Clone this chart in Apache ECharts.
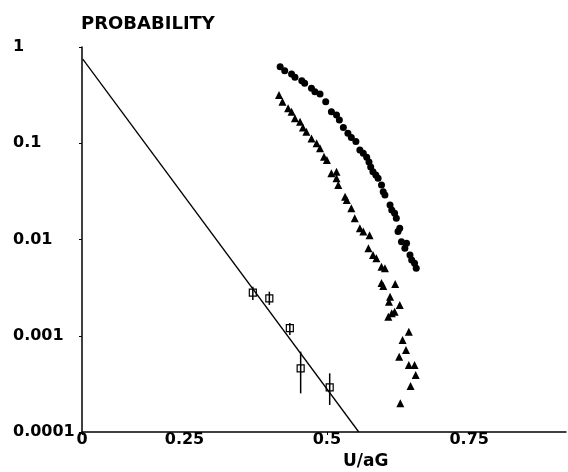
<!DOCTYPE html>
<html>
<head>
<meta charset="utf-8">
<script src="https://cdn.jsdelivr.net/npm/echarts@6/dist/echarts.min.js"></script>
<style>
  html, body { margin: 0; padding: 0; background: #fff; }
  #chart { width: 568px; height: 472px; }
</style>
</head>
<body>
<div id="chart"></div>
<script>
// filled circles
var circleX = [0.418, 0.426, 0.438, 0.444, 0.456, 0.461, 0.473, 0.479, 0.488, 0.498, 0.508, 0.517, 0.522, 0.529, 0.537, 0.543, 0.551, 0.558, 0.564, 0.570, 0.574, 0.577, 0.581, 0.586, 0.590, 0.596, 0.599, 0.602, 0.611, 0.614, 0.619, 0.622, 0.628, 0.625, 0.631, 0.640, 0.637, 0.646, 0.649, 0.654, 0.657];
var circleY = [0.624, 0.567, 0.524, 0.484, 0.447, 0.420, 0.372, 0.343, 0.325, 0.270, 0.213, 0.197, 0.174, 0.146, 0.127, 0.115, 0.104, 0.0851, 0.0787, 0.0715, 0.0639, 0.0567, 0.0506, 0.0468, 0.0432, 0.0368, 0.0314, 0.0290, 0.0228, 0.0203, 0.0187, 0.0166, 0.0131, 0.0121, 0.00949, 0.00913, 0.00810, 0.00690, 0.00612, 0.00566, 0.00502];
// filled triangles
var triangleX = [0.416, 0.422, 0.432, 0.438, 0.444, 0.453, 0.458, 0.464, 0.473, 0.482, 0.488, 0.495, 0.500, 0.508, 0.517, 0.517, 0.520, 0.532, 0.535, 0.543, 0.549, 0.558, 0.564, 0.575, 0.573, 0.581, 0.587, 0.596, 0.602, 0.596, 0.599, 0.620, 0.611, 0.609, 0.628, 0.619, 0.614, 0.608, 0.644, 0.633, 0.639, 0.627, 0.644, 0.654, 0.656, 0.647, 0.629];
var triangleY = [0.317, 0.270, 0.231, 0.213, 0.182, 0.167, 0.146, 0.132, 0.112, 0.0999, 0.0886, 0.0725, 0.0670, 0.0487, 0.0506, 0.0432, 0.0368, 0.0278, 0.0257, 0.0211, 0.0166, 0.0131, 0.0121, 0.0111, 0.00810, 0.00690, 0.00638, 0.00522, 0.00502, 0.00353, 0.00329, 0.00345, 0.00254, 0.00226, 0.00209, 0.00178, 0.00171, 0.00158, 0.00110, 0.000903, 0.000711, 0.000606, 0.000497, 0.000497, 0.000391, 0.000300, 0.000199];
// open squares with error bars
var squareX = [0.370, 0.399, 0.435, 0.454, 0.505];
var squareY = [0.00280, 0.00245, 0.00120, 0.000459, 0.000291];
var squareLow = [0.00235, 0.00209, 0.00102, 0.000252, 0.000191];
var squareHigh = [0.00323, 0.00287, 0.00136, 0.000683, 0.000407];
// straight fit line
var fitX = [0.0714, 0.5561];
var fitY = [0.75, 0.0001];
// axis ticks
var xTickValues = [0.07, 0.25, 0.5, 0.75];
var xTickLabels = ['0', '0.25', '0.5', '0.75'];
var yTickLabels = { 1: '1', 0.1: '0.1', 0.01: '0.01', 0.001: '0.001', 0.0001: '0.0001' };

function zip(xs, ys) {
    return xs.map(function (x, i) { return [x, ys[i]]; });
}

var myChart = echarts.init(document.getElementById('chart'));
var font = '"DejaVu Sans", sans-serif';

var option = {
    animation: false,
    backgroundColor: '#fff',
    title: [{
        text: 'PROBABILITY',
        left: 76,
        top: 10,
        textStyle: { fontFamily: font, fontWeight: 'bold', fontSize: 18, color: '#000' }
    }, {
        text: 'U/aG',
        left: 343,
        top: 453,
        padding: 0,
        textStyle: { fontFamily: font, fontWeight: 'bold', fontSize: 17, color: '#000' }
    }],
    grid: {
        left: 82,
        right: 2,
        top: 47,
        bottom: 40,
        containLabel: false,
        outerBoundsMode: 'none'
    },
    xAxis: {
        type: 'value',
        min: 0.07,
        max: 0.92,
        splitLine: { show: false },
        axisLine: { lineStyle: { color: '#000', width: 1.5 } },
        axisTick: {
            customValues: xTickValues,
            length: 3,
            lineStyle: { color: '#000' }
        },
        axisLabel: {
            customValues: xTickValues,
            margin: 0,
            color: '#000',
            fontFamily: font,
            fontWeight: 'bold',
            fontSize: 16,
            formatter: function (v) {
                var i = xTickValues.indexOf(v);
                return i >= 0 ? xTickLabels[i] : '';
            }
        }
    },
    yAxis: {
        type: 'log',
        logBase: 10,
        min: 0.0001,
        max: 1,
        splitLine: { show: false },
        axisLine: { show: true, lineStyle: { color: '#000', width: 1.5 } },
        axisTick: { show: true, length: 3, lineStyle: { color: '#000' } },
        axisLabel: {
            align: 'left',
            margin: 69,
            color: '#000',
            fontFamily: font,
            fontWeight: 'bold',
            fontSize: 16,
            formatter: function (v) {
                for (var k in yTickLabels) {
                    if (Math.abs(Math.log10(v) - Math.log10(+k)) < 1e-6) return yTickLabels[k];
                }
                return '';
            }
        }
    },
    series: [{
        name: 'fit',
        type: 'line',
        symbol: 'none',
        lineStyle: { color: '#000', width: 1.3 },
        data: zip(fitX, fitY)
    }, {
        name: 'errors',
        type: 'custom',
        encode: { x: 0, y: [1, 2] },
        renderItem: function (params, api) {
            var top = api.coord([api.value(0), api.value(2)]);
            var bottom = api.coord([api.value(0), api.value(1)]);
            return {
                type: 'line',
                shape: { x1: top[0], y1: top[1], x2: bottom[0], y2: bottom[1] },
                style: { stroke: '#000', lineWidth: 1.5 }
            };
        },
        data: squareX.map(function (x, i) { return [x, squareLow[i], squareHigh[i]]; })
    }, {
        name: 'squares',
        type: 'scatter',
        symbol: 'rect',
        symbolSize: 7,
        itemStyle: { color: 'rgba(255,255,255,0)', borderColor: '#000', borderWidth: 1.2, opacity: 1 },
        data: zip(squareX, squareY)
    }, {
        name: 'circles',
        type: 'scatter',
        symbol: 'circle',
        symbolSize: 7,
        itemStyle: { color: '#000', opacity: 1 },
        data: zip(circleX, circleY)
    }, {
        name: 'triangles',
        type: 'scatter',
        symbol: 'triangle',
        symbolSize: 8,
        itemStyle: { color: '#000', opacity: 1 },
        data: zip(triangleX, triangleY)
    }]
};

myChart.setOption(option);
window.addEventListener('resize', function () {
    myChart.resize();
});
</script>
</body>
</html>
